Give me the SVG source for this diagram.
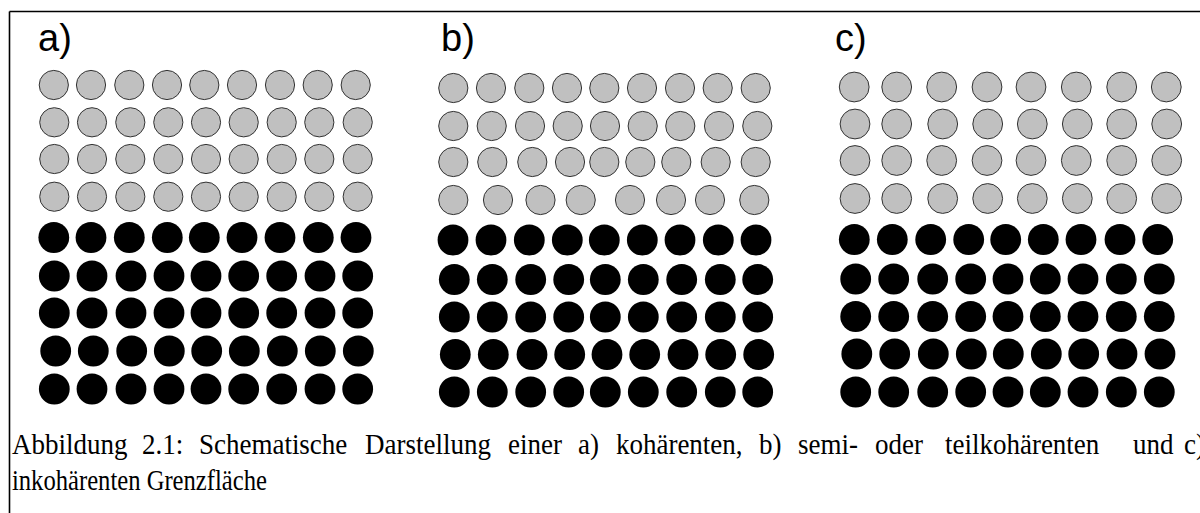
<svg xmlns="http://www.w3.org/2000/svg" width="1200" height="513" viewBox="0 0 1200 513">
<style>
.g{fill:#c0c0c0;stroke:#333;stroke-width:1}
.k{fill:#000}
.lbl{font-family:"Liberation Sans",Arial,sans-serif;font-size:38px;fill:#000}
.cap{font-family:"Liberation Serif","Times New Roman",serif;font-size:30px;fill:#000}
</style>
<rect width="1200" height="513" fill="#fff"/>
<g id="frame" stroke="#000" stroke-width="1.6" fill="none">
<line x1="9.5" y1="11.5" x2="1200" y2="11.5"/>
<line x1="9.5" y1="11.5" x2="9.5" y2="513"/>
</g>
<g id="panel-a">
<text class="lbl" x="38" y="51">a)</text>
<g id="a-gray">
<circle class="g" cx="53.8" cy="85" r="14.6"/><circle class="g" cx="91" cy="85" r="14.6"/><circle class="g" cx="129.3" cy="85" r="14.6"/><circle class="g" cx="167" cy="85" r="14.6"/><circle class="g" cx="204.3" cy="85" r="14.6"/><circle class="g" cx="242" cy="85" r="14.6"/><circle class="g" cx="280" cy="85" r="14.6"/><circle class="g" cx="317.7" cy="85" r="14.6"/><circle class="g" cx="355.7" cy="85" r="14.6"/>
<circle class="g" cx="54.3" cy="122.3" r="14.6"/><circle class="g" cx="92" cy="122.3" r="14.6"/><circle class="g" cx="130.3" cy="122.3" r="14.6"/><circle class="g" cx="168.3" cy="122.3" r="14.6"/><circle class="g" cx="206" cy="122.3" r="14.6"/><circle class="g" cx="243.7" cy="122.3" r="14.6"/><circle class="g" cx="281.7" cy="122.3" r="14.6"/><circle class="g" cx="319.3" cy="122.3" r="14.6"/><circle class="g" cx="357.7" cy="122.3" r="14.6"/>
<circle class="g" cx="54.3" cy="159" r="14.6"/><circle class="g" cx="92" cy="159" r="14.6"/><circle class="g" cx="130.3" cy="159" r="14.6"/><circle class="g" cx="168.3" cy="159" r="14.6"/><circle class="g" cx="206" cy="159" r="14.6"/><circle class="g" cx="243.7" cy="159" r="14.6"/><circle class="g" cx="281.7" cy="159" r="14.6"/><circle class="g" cx="319.3" cy="159" r="14.6"/><circle class="g" cx="357.7" cy="159" r="14.6"/>
<circle class="g" cx="54.3" cy="196.7" r="14.6"/><circle class="g" cx="92" cy="196.7" r="14.6"/><circle class="g" cx="130.3" cy="196.7" r="14.6"/><circle class="g" cx="168.3" cy="196.7" r="14.6"/><circle class="g" cx="206" cy="196.7" r="14.6"/><circle class="g" cx="243.7" cy="196.7" r="14.6"/><circle class="g" cx="281.7" cy="196.7" r="14.6"/><circle class="g" cx="319.3" cy="196.7" r="14.6"/><circle class="g" cx="357.7" cy="196.7" r="14.6"/>
</g>
<g id="a-black">
<circle class="k" cx="53.8" cy="237.5" r="15.4"/><circle class="k" cx="91" cy="237.5" r="15.4"/><circle class="k" cx="129.3" cy="237.5" r="15.4"/><circle class="k" cx="167.3" cy="237.5" r="15.4"/><circle class="k" cx="204.3" cy="237.5" r="15.4"/><circle class="k" cx="242" cy="237.5" r="15.4"/><circle class="k" cx="280" cy="237.5" r="15.4"/><circle class="k" cx="318.3" cy="237.5" r="15.4"/><circle class="k" cx="356" cy="237.5" r="15.4"/>
<circle class="k" cx="54.3" cy="276" r="15.4"/><circle class="k" cx="92" cy="276" r="15.4"/><circle class="k" cx="131" cy="276" r="15.4"/><circle class="k" cx="169" cy="276" r="15.4"/><circle class="k" cx="206" cy="276" r="15.4"/><circle class="k" cx="243.7" cy="276" r="15.4"/><circle class="k" cx="281.7" cy="276" r="15.4"/><circle class="k" cx="320" cy="276" r="15.4"/><circle class="k" cx="357.7" cy="276" r="15.4"/>
<circle class="k" cx="54.3" cy="313" r="15.4"/><circle class="k" cx="92" cy="313" r="15.4"/><circle class="k" cx="131" cy="313" r="15.4"/><circle class="k" cx="169" cy="313" r="15.4"/><circle class="k" cx="206" cy="313" r="15.4"/><circle class="k" cx="243.7" cy="313" r="15.4"/><circle class="k" cx="281.7" cy="313" r="15.4"/><circle class="k" cx="320" cy="313" r="15.4"/><circle class="k" cx="357.7" cy="313" r="15.4"/>
<circle class="k" cx="55.7" cy="351" r="15.4"/><circle class="k" cx="93.3" cy="351" r="15.4"/><circle class="k" cx="131.7" cy="351" r="15.4"/><circle class="k" cx="169.3" cy="351" r="15.4"/><circle class="k" cx="206.7" cy="351" r="15.4"/><circle class="k" cx="244.3" cy="351" r="15.4"/><circle class="k" cx="282.3" cy="351" r="15.4"/><circle class="k" cx="320.3" cy="351" r="15.4"/><circle class="k" cx="358.3" cy="351" r="15.4"/>
<circle class="k" cx="54.3" cy="389" r="15.4"/><circle class="k" cx="92" cy="389" r="15.4"/><circle class="k" cx="131" cy="389" r="15.4"/><circle class="k" cx="169" cy="389" r="15.4"/><circle class="k" cx="206" cy="389" r="15.4"/><circle class="k" cx="243.7" cy="389" r="15.4"/><circle class="k" cx="281.7" cy="389" r="15.4"/><circle class="k" cx="320" cy="389" r="15.4"/><circle class="k" cx="357.7" cy="389" r="15.4"/>
</g>
</g>
<g id="panel-b">
<text class="lbl" x="441" y="51">b)</text>
<g id="b-gray">
<circle class="g" cx="453.3" cy="88" r="14.6"/><circle class="g" cx="491" cy="88" r="14.6"/><circle class="g" cx="529.3" cy="88" r="14.6"/><circle class="g" cx="567" cy="88" r="14.6"/><circle class="g" cx="604.3" cy="88" r="14.6"/><circle class="g" cx="642" cy="88" r="14.6"/><circle class="g" cx="680" cy="88" r="14.6"/><circle class="g" cx="717.7" cy="88" r="14.6"/><circle class="g" cx="755.7" cy="88" r="14.6"/>
<circle class="g" cx="453.3" cy="126" r="14.6"/><circle class="g" cx="491.7" cy="126" r="14.6"/><circle class="g" cx="530" cy="126" r="14.6"/><circle class="g" cx="567.7" cy="126" r="14.6"/><circle class="g" cx="605" cy="126" r="14.6"/><circle class="g" cx="642.7" cy="126" r="14.6"/><circle class="g" cx="680.3" cy="126" r="14.6"/><circle class="g" cx="719" cy="126" r="14.6"/><circle class="g" cx="757.3" cy="126" r="14.6"/>
<circle class="g" cx="453.3" cy="162" r="14.6"/><circle class="g" cx="492.3" cy="162" r="14.6"/><circle class="g" cx="532.3" cy="162" r="14.6"/><circle class="g" cx="570" cy="162" r="14.6"/><circle class="g" cx="604.3" cy="162" r="14.6"/><circle class="g" cx="640.3" cy="162" r="14.6"/><circle class="g" cx="676.3" cy="162" r="14.6"/><circle class="g" cx="715.7" cy="162" r="14.6"/><circle class="g" cx="755.7" cy="162" r="14.6"/>
<circle class="g" cx="453.3" cy="200" r="14.6"/><circle class="g" cx="498" cy="200" r="14.6"/><circle class="g" cx="540.5" cy="200" r="14.6"/><circle class="g" cx="580.7" cy="200" r="14.6"/><circle class="g" cx="630" cy="200" r="14.6"/><circle class="g" cx="671" cy="200" r="14.6"/><circle class="g" cx="710" cy="200" r="14.6"/><circle class="g" cx="754.3" cy="200" r="14.6"/>
</g>
<g id="b-black">
<circle class="k" cx="453" cy="240" r="15.4"/><circle class="k" cx="491" cy="240" r="15.4"/><circle class="k" cx="529.3" cy="240" r="15.4"/><circle class="k" cx="567.3" cy="240" r="15.4"/><circle class="k" cx="604.3" cy="240" r="15.4"/><circle class="k" cx="642.3" cy="240" r="15.4"/><circle class="k" cx="680" cy="240" r="15.4"/><circle class="k" cx="718.3" cy="240" r="15.4"/><circle class="k" cx="756" cy="240" r="15.4"/>
<circle class="k" cx="454.3" cy="279.5" r="15.4"/><circle class="k" cx="492.3" cy="279.5" r="15.4"/><circle class="k" cx="530.7" cy="279.5" r="15.4"/><circle class="k" cx="568.7" cy="279.5" r="15.4"/><circle class="k" cx="605.3" cy="279.5" r="15.4"/><circle class="k" cx="643.3" cy="279.5" r="15.4"/><circle class="k" cx="681.7" cy="279.5" r="15.4"/><circle class="k" cx="720.3" cy="279.5" r="15.4"/><circle class="k" cx="757.7" cy="279.5" r="15.4"/>
<circle class="k" cx="454.3" cy="317" r="15.4"/><circle class="k" cx="492.3" cy="317" r="15.4"/><circle class="k" cx="530.7" cy="317" r="15.4"/><circle class="k" cx="568.7" cy="317" r="15.4"/><circle class="k" cx="605.3" cy="317" r="15.4"/><circle class="k" cx="643.3" cy="317" r="15.4"/><circle class="k" cx="681.7" cy="317" r="15.4"/><circle class="k" cx="720.3" cy="317" r="15.4"/><circle class="k" cx="757.7" cy="317" r="15.4"/>
<circle class="k" cx="455.3" cy="354.5" r="15.4"/><circle class="k" cx="493.3" cy="354.5" r="15.4"/><circle class="k" cx="532" cy="354.5" r="15.4"/><circle class="k" cx="569.7" cy="354.5" r="15.4"/><circle class="k" cx="607" cy="354.5" r="15.4"/><circle class="k" cx="644.7" cy="354.5" r="15.4"/><circle class="k" cx="683" cy="354.5" r="15.4"/><circle class="k" cx="720.7" cy="354.5" r="15.4"/><circle class="k" cx="758.7" cy="354.5" r="15.4"/>
<circle class="k" cx="454.3" cy="392" r="15.4"/><circle class="k" cx="492.3" cy="392" r="15.4"/><circle class="k" cx="530.7" cy="392" r="15.4"/><circle class="k" cx="568.7" cy="392" r="15.4"/><circle class="k" cx="605.3" cy="392" r="15.4"/><circle class="k" cx="643.3" cy="392" r="15.4"/><circle class="k" cx="681.7" cy="392" r="15.4"/><circle class="k" cx="720.3" cy="392" r="15.4"/><circle class="k" cx="757.7" cy="392" r="15.4"/>
</g>
</g>
<g id="panel-c">
<text class="lbl" x="835" y="51">c)</text>
<g id="c-gray">
<circle class="g" cx="854.2" cy="87" r="14.9"/><circle class="g" cx="896.7" cy="87" r="14.9"/><circle class="g" cx="941.7" cy="87" r="14.9"/><circle class="g" cx="987" cy="87" r="14.9"/><circle class="g" cx="1031" cy="87" r="14.9"/><circle class="g" cx="1076.3" cy="87" r="14.9"/><circle class="g" cx="1121.7" cy="87" r="14.9"/><circle class="g" cx="1166.3" cy="87" r="14.9"/>
<circle class="g" cx="855" cy="124" r="14.9"/><circle class="g" cx="896.7" cy="124" r="14.9"/><circle class="g" cx="942.7" cy="124" r="14.9"/><circle class="g" cx="987.7" cy="124" r="14.9"/><circle class="g" cx="1032.3" cy="124" r="14.9"/><circle class="g" cx="1077.3" cy="124" r="14.9"/><circle class="g" cx="1121.7" cy="124" r="14.9"/><circle class="g" cx="1166.7" cy="124" r="14.9"/>
<circle class="g" cx="855" cy="160.5" r="14.9"/><circle class="g" cx="896.7" cy="160.5" r="14.9"/><circle class="g" cx="941.7" cy="160.5" r="14.9"/><circle class="g" cx="987" cy="160.5" r="14.9"/><circle class="g" cx="1031" cy="160.5" r="14.9"/><circle class="g" cx="1076.3" cy="160.5" r="14.9"/><circle class="g" cx="1121.7" cy="160.5" r="14.9"/><circle class="g" cx="1166.7" cy="160.5" r="14.9"/>
<circle class="g" cx="855" cy="198.5" r="14.9"/><circle class="g" cx="896.7" cy="198.5" r="14.9"/><circle class="g" cx="942.7" cy="198.5" r="14.9"/><circle class="g" cx="987.7" cy="198.5" r="14.9"/><circle class="g" cx="1032.3" cy="198.5" r="14.9"/><circle class="g" cx="1077.3" cy="198.5" r="14.9"/><circle class="g" cx="1121.7" cy="198.5" r="14.9"/><circle class="g" cx="1166.7" cy="198.5" r="14.9"/>
</g>
<g id="c-black">
<circle class="k" cx="854.3" cy="239.5" r="15.4"/><circle class="k" cx="892.3" cy="239.5" r="15.4"/><circle class="k" cx="930.7" cy="239.5" r="15.4"/><circle class="k" cx="968.7" cy="239.5" r="15.4"/><circle class="k" cx="1005.7" cy="239.5" r="15.4"/><circle class="k" cx="1043.3" cy="239.5" r="15.4"/><circle class="k" cx="1081" cy="239.5" r="15.4"/><circle class="k" cx="1120" cy="239.5" r="15.4"/><circle class="k" cx="1157.7" cy="239.5" r="15.4"/>
<circle class="k" cx="855.7" cy="279" r="15.4"/><circle class="k" cx="893.7" cy="279" r="15.4"/><circle class="k" cx="932.7" cy="279" r="15.4"/><circle class="k" cx="970.7" cy="279" r="15.4"/><circle class="k" cx="1008" cy="279" r="15.4"/><circle class="k" cx="1045.3" cy="279" r="15.4"/><circle class="k" cx="1083" cy="279" r="15.4"/><circle class="k" cx="1121.3" cy="279" r="15.4"/><circle class="k" cx="1159.3" cy="279" r="15.4"/>
<circle class="k" cx="855.7" cy="316.5" r="15.4"/><circle class="k" cx="893.7" cy="316.5" r="15.4"/><circle class="k" cx="932.7" cy="316.5" r="15.4"/><circle class="k" cx="970.7" cy="316.5" r="15.4"/><circle class="k" cx="1008" cy="316.5" r="15.4"/><circle class="k" cx="1045.3" cy="316.5" r="15.4"/><circle class="k" cx="1083" cy="316.5" r="15.4"/><circle class="k" cx="1121.3" cy="316.5" r="15.4"/><circle class="k" cx="1159.3" cy="316.5" r="15.4"/>
<circle class="k" cx="856.8" cy="354" r="15.4"/><circle class="k" cx="894.7" cy="354" r="15.4"/><circle class="k" cx="933.3" cy="354" r="15.4"/><circle class="k" cx="971.3" cy="354" r="15.4"/><circle class="k" cx="1008.3" cy="354" r="15.4"/><circle class="k" cx="1046.3" cy="354" r="15.4"/><circle class="k" cx="1083.7" cy="354" r="15.4"/><circle class="k" cx="1122" cy="354" r="15.4"/><circle class="k" cx="1160" cy="354" r="15.4"/>
<circle class="k" cx="855.7" cy="392" r="15.4"/><circle class="k" cx="893.7" cy="392" r="15.4"/><circle class="k" cx="932.7" cy="392" r="15.4"/><circle class="k" cx="970.7" cy="392" r="15.4"/><circle class="k" cx="1008" cy="392" r="15.4"/><circle class="k" cx="1045.3" cy="392" r="15.4"/><circle class="k" cx="1083" cy="392" r="15.4"/><circle class="k" cx="1121.3" cy="392" r="15.4"/><circle class="k" cx="1159.3" cy="392" r="15.4"/>
</g>
</g>
<g id="caption" transform="scale(0.9 1)">
<text class="cap" y="454"><tspan x="13.3">Abbildung</tspan><tspan x="157.8">2.1:</tspan><tspan x="221.1">Schematische</tspan><tspan x="405.6">Darstellung</tspan><tspan x="564.4">einer</tspan><tspan x="642.2">a)</tspan><tspan x="684.4">kohärenten,</tspan><tspan x="843.3">b)</tspan><tspan x="886.7">semi-</tspan><tspan x="972.2">oder</tspan><tspan x="1050">teilkohärenten</tspan><tspan x="1258.9">und</tspan><tspan x="1315.6">c)</tspan></text>
<text class="cap" x="13.3" y="490" textLength="283.3" lengthAdjust="spacingAndGlyphs">inkohärenten Grenzfläche</text>
</g>
</svg>
